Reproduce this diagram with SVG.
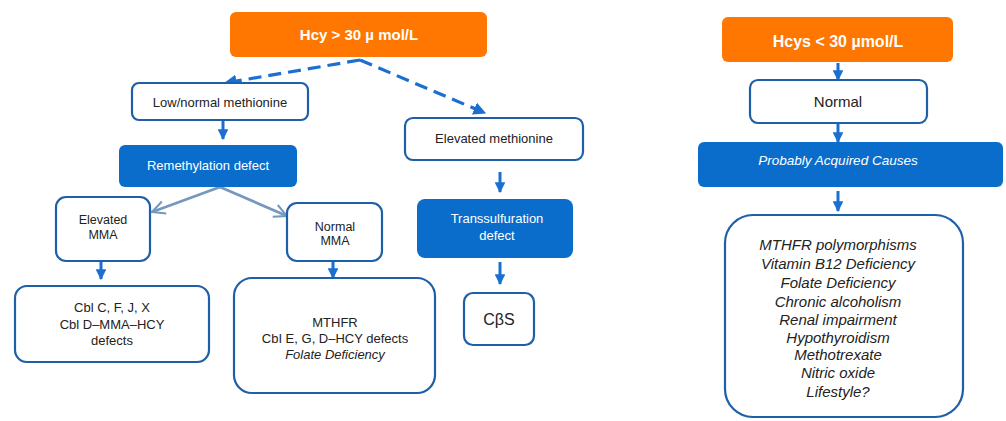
<svg xmlns="http://www.w3.org/2000/svg" width="1006" height="421" viewBox="0 0 1006 421">
<style>
text{font-family:"Liberation Sans",Arial,sans-serif;text-anchor:middle;fill:#222}
.orange{fill:#ff7700}
.blue{fill:#0a6dcc}
.box{fill:#fff;stroke:#1d5fa8;stroke-width:2.2}
.w{fill:#fff}
.it{font-style:italic}
.b{font-weight:bold}
.arr{stroke:#1a6fd0;stroke-width:3;fill:none}
.dash{stroke:#1a6fd0;stroke-width:3.2;fill:none;stroke-dasharray:13 7}
.grey{stroke:#7598bd;stroke-width:2.8;fill:none}
</style>
<defs>
<marker id="ah" viewBox="0 0 10 10" refX="9" refY="5" markerWidth="3.6" markerHeight="3.6" orient="auto" markerUnits="strokeWidth">
<path d="M0,0 L10,5 L0,10 Z" fill="#1a6fd0"/>
</marker>
<marker id="ahd" viewBox="0 0 10 10" refX="9" refY="5" markerWidth="4" markerHeight="4" orient="auto" markerUnits="strokeWidth">
<path d="M0,0 L10,5 L0,10 Z" fill="#1a6fd0"/>
</marker>
<marker id="chev" viewBox="0 0 12 12" refX="11" refY="6" markerWidth="5.5" markerHeight="5.5" orient="auto" markerUnits="strokeWidth">
<path d="M1,1 L11,6 L1,11" fill="none" stroke="#7598bd" stroke-width="1.6"/>
</marker>
</defs>

<g id="connectors">
<path class="dash" d="M360,60 L225,83" marker-end="url(#ahd)"/>
<path class="dash" d="M360,60 L485,113" marker-end="url(#ahd)"/>
<path class="arr" d="M223,121 L223,139" marker-end="url(#ah)"/>
<path class="grey" d="M220,187 L152,212" marker-end="url(#chev)"/>
<path class="grey" d="M220,187 L287,216" marker-end="url(#chev)"/>
<path class="arr" d="M101,262 L101,279" marker-end="url(#ah)"/>
<path class="arr" d="M333,262 L333,278" marker-end="url(#ah)"/>
<path class="arr" d="M500,172 L500,192" marker-end="url(#ah)"/>
<path class="arr" d="M500,262 L500,284" marker-end="url(#ah)"/>
<path class="arr" d="M838,63 L838,80" marker-end="url(#ah)"/>
<path class="arr" d="M838,124 L838,142" marker-end="url(#ah)"/>
<path class="arr" d="M838,191 L838,211" marker-end="url(#ah)"/>
</g>

<g id="hcy-high">
<rect class="orange" x="230" y="12" width="257" height="45" rx="6"/>
<text class="w b" x="359" y="40" font-size="15">Hcy &gt; 30 µ mol/L</text>
</g>
<g id="low-normal-met">
<rect class="box" x="132" y="83" width="176" height="37" rx="7"/>
<text x="220" y="107" font-size="13">Low/normal methionine</text>
</g>
<g id="remethylation">
<rect class="blue" x="119" y="145" width="178" height="42" rx="6"/>
<text class="w" x="208" y="170" font-size="13">Remethylation defect</text>
</g>
<g id="elevated-met">
<rect class="box" x="405" y="118" width="178" height="42" rx="8"/>
<text x="494" y="143" font-size="13">Elevated methionine</text>
</g>
<g id="transsulfuration">
<rect class="blue" x="417" y="199" width="156" height="59" rx="8"/>
<text class="w" x="497" y="223" font-size="13">Transsulfuration</text>
<text class="w" x="497" y="240" font-size="13">defect</text>
</g>
<g id="cbs">
<rect class="box" x="464" y="293" width="70" height="52" rx="9"/>
<text x="499" y="325" font-size="16">CβS</text>
</g>
<g id="elevated-mma">
<rect class="box" x="56" y="197" width="94" height="64" rx="10"/>
<text x="103" y="224" font-size="12.5">Elevated</text>
<text x="103" y="239" font-size="12.5">MMA</text>
</g>
<g id="normal-mma">
<rect class="box" x="287" y="203" width="95" height="58" rx="10"/>
<text x="335" y="231" font-size="12.5">Normal</text>
<text x="335" y="245" font-size="12.5">MMA</text>
</g>
<g id="cbl-defects">
<rect class="box" x="15" y="286" width="194" height="76" rx="12"/>
<text x="112" y="312" font-size="13">Cbl C, F,  J, X</text>
<text x="112" y="329" font-size="13">Cbl D–MMA–HCY</text>
<text x="112" y="345" font-size="13">defects</text>
</g>
<g id="mthfr">
<rect class="box" x="234" y="278" width="201" height="115" rx="18"/>
<text x="335" y="327" font-size="13">MTHFR</text>
<text x="335" y="343" font-size="13">CbI E, G, D–HCY defects</text>
<text class="it" x="335" y="359" font-size="13">Folate Deficiency</text>
</g>

<g id="hcy-low">
<rect class="orange" x="722" y="17" width="231" height="45" rx="6"/>
<text class="w b" x="838" y="47" font-size="16">Hcys &lt; 30 µmol/L</text>
</g>
<g id="normal">
<rect class="box" x="750" y="80" width="177" height="43" rx="8"/>
<text x="838" y="107" font-size="15">Normal</text>
</g>
<g id="acquired">
<rect class="blue" x="698" y="142" width="305" height="45" rx="6"/>
<text class="w it" x="838" y="165" font-size="13.5">Probably Acquired Causes</text>
</g>
<g id="causes">
<rect class="box" x="725" y="215" width="238" height="202" rx="28"/>
<g font-size="15">
<text class="it" x="838" y="250">MTHFR polymorphisms</text>
<text class="it" x="838" y="269">Vitamin B12 Deficiency</text>
<text class="it" x="838" y="288">Folate Deficiency</text>
<text class="it" x="838" y="307">Chronic alcoholism</text>
<text class="it" x="838" y="325">Renal impairment</text>
<text class="it" x="838" y="343">Hypothyroidism</text>
<text class="it" x="838" y="360">Methotrexate</text>
<text class="it" x="838" y="378">Nitric oxide</text>
<text class="it" x="838" y="397">Lifestyle?</text>
</g>
</g>
</svg>
